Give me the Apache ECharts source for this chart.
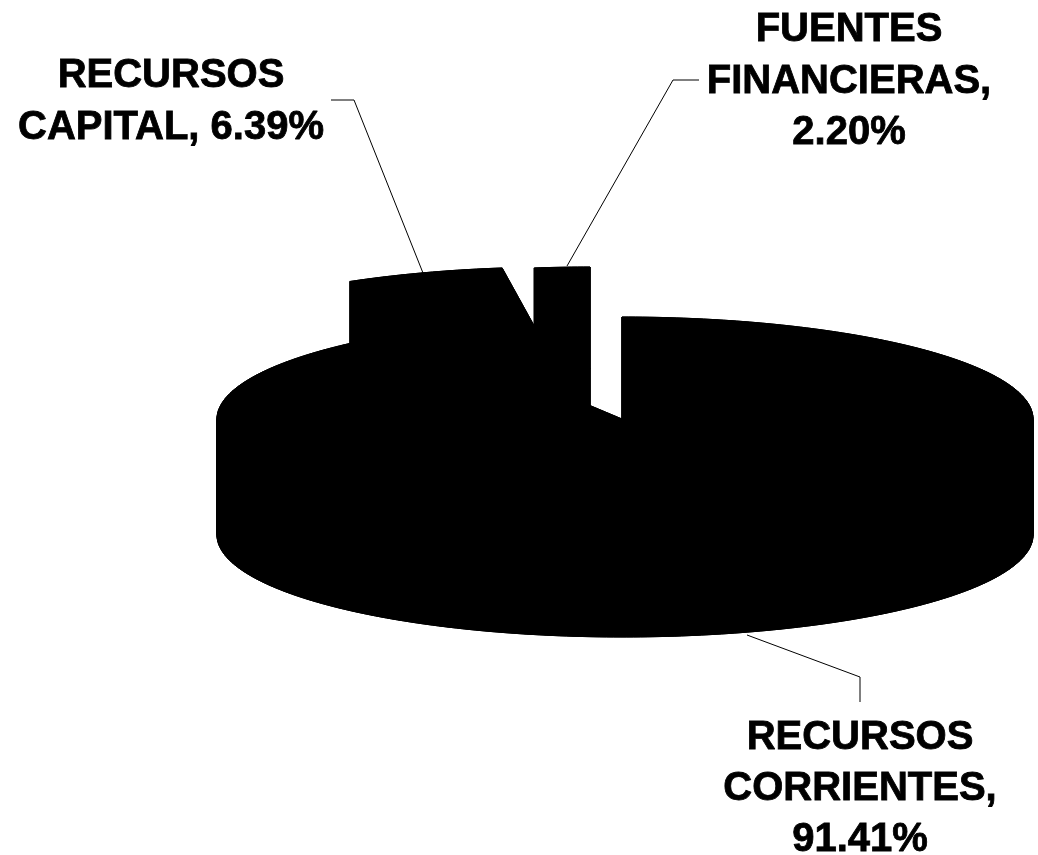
<!DOCTYPE html>
<html>
<head>
<meta charset="utf-8">
<style>html,body{margin:0;padding:0;background:#fff}#c{width:1038px;height:855px}</style>
<script src="https://cdn.jsdelivr.net/npm/echarts@6/dist/echarts.min.js"></script>
</head>
<body>
<div id="c"></div>
<script>
// Data
const categories = ['RECURSOS CORRIENTES', 'RECURSOS CAPITAL', 'FUENTES FINANCIERAS'];
const values = [91.41, 6.39, 2.20];

// Layout of the drawing (pie geometry, exploded offsets, leaders, label anchors)
const radiusLeft = 405, radiusRight = 411, radiusY = 102, depth = 116;
const centers = [[622, 419], [558, 369], [590, 369]];
const leaders = [
  [[747, 635], [860, 677], [860, 702]],
  [[331, 100], [354, 100], [423, 273]],
  [[699, 80], [673, 80], [567, 266]]
];
const labelLines = [
  ['RECURSOS', 'CORRIENTES,', null],
  ['RECURSOS', null],
  ['FUENTES', 'FINANCIERAS,', null]
];
const capitalInline = 'CAPITAL, ';
const labelAnchors = [[860, 718], [171, 56], [849, 10]];
const lineSteps = [51, 52, 51.5];
const font = 'bold 40px "Liberation Sans", Arial, sans-serif';

const total = values.reduce((a, b) => a + b, 0);
const starts = values.map((_, i) => values.slice(0, i).reduce((a, b) => a + b, 0));

function sector(i) {
  const a0 = starts[i] / total * 2 * Math.PI;
  const a1 = (starts[i] + values[i]) / total * 2 * Math.PI;
  const [cx, cy] = centers[i];
  const pts = [[cx, cy]];
  const steps = Math.max(8, Math.ceil((a1 - a0) * 60));
  for (let k = 0; k <= steps; k++) {
    const a = a0 + (a1 - a0) * k / steps;
    const s = Math.sin(a);
    pts.push([cx + (s > 0 ? radiusRight : radiusLeft) * s, cy - radiusY * Math.cos(a)]);
  }
  return pts;
}

function renderSlice(params, api) {
  const i = api.value(0);
  const toPx = p => api.coord(p);
  const top = sector(i);
  const style = { fill: '#000', stroke: '#000', lineWidth: 1 };
  const poly = pts => ({ type: 'polygon', shape: { points: pts.map(toPx) }, style });
  const children = [];
  top.forEach((p, k) => {
    const q = top[(k + 1) % top.length];
    children.push(poly([p, q, [q[0], q[1] + depth], [p[0], p[1] + depth]]));
  });
  children.push(poly(top));
  children.push(poly(top.map(p => [p[0], p[1] + depth])));
  return { type: 'group', children };
}

function renderLabel(params, api) {
  const i = api.value(0);
  const pct = values[i].toFixed(2) + '%';
  const lines = labelLines[i].map(l => l === null ? (i === 1 ? capitalInline + pct : pct) : l);
  const [x, y] = api.coord(labelAnchors[i]);
  const children = [];
  children.push({
    type: 'polyline',
    shape: { points: leaders[i].map(p => api.coord(p)) },
    style: { fill: null, stroke: '#000', lineWidth: 1 }
  });
  lines.forEach((t, k) => {
    children.push({
      type: 'text',
      style: {
        text: t, x: x, y: y + k * lineSteps[i], align: 'center', verticalAlign: 'top',
        font: font, fill: '#000', stroke: '#000', lineWidth: 0.8
      }
    });
  });
  return { type: 'group', children };
}

const rows = categories.map((c, i) => [i, values[i], c]);
const chart = echarts.init(document.getElementById('c'), null, { renderer: 'canvas' });
chart.setOption({
  animation: false,
  backgroundColor: '#fff',
  tooltip: { show: false },
  grid: { left: 0, right: 0, top: 0, bottom: 0 },
  xAxis: { type: 'value', min: 0, max: 1038, show: false },
  yAxis: { type: 'value', min: 0, max: 855, inverse: true, show: false },
  series: [
    { type: 'custom', name: 'slices', coordinateSystem: 'cartesian2d', renderItem: renderSlice,
      data: rows, clip: false, silent: true, z: 2, encode: { x: 0, y: 1 } },
    { type: 'custom', name: 'labels', coordinateSystem: 'cartesian2d', renderItem: renderLabel,
      data: rows, clip: false, silent: true, z: 3, encode: { x: 0, y: 1 } }
  ]
});
</script>
</body>
</html>
